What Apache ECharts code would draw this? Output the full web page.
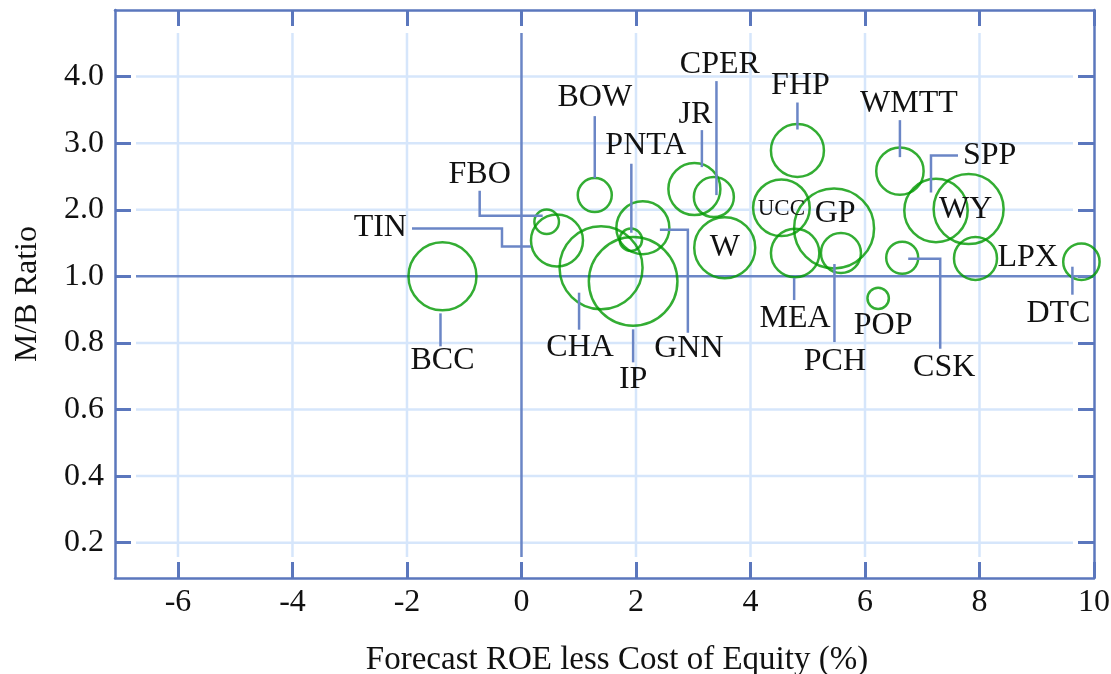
<!DOCTYPE html>
<html>
<head>
<meta charset="utf-8">
<script src="https://cdn.jsdelivr.net/npm/echarts@6/dist/echarts.min.js"></script>
<style>
  html, body { margin: 0; padding: 0; background: #fff; }
  #chart { width: 1111px; height: 674px; }
</style>
</head>
<body>
<div id="chart"></div>
<script>
// companies, x = forecast ROE less cost of equity (%), y = M/B ratio, bubble = relative size
const tickers = ['BCC', 'TIN', 'FBO', 'BOW', 'PNTA', 'GNN', 'CHA', 'IP', 'JR', 'CPER', 'W', 'UCC',
  'FHP', 'GP', 'MEA', 'PCH', 'POP', 'WMTT', 'CSK', 'SPP', 'WY', 'LPX', 'DTC'];
const roeSpread = [-1.38, 0.62, 0.44, 1.28, 1.91, 2.12, 1.39, 1.95, 3.02, 3.36, 3.55, 4.54,
  4.82, 5.46, 4.78, 5.58, 6.23, 6.61, 6.65, 7.24, 7.81, 7.93, 9.78];
const mbRatio = [1.0, 1.54, 1.82, 2.22, 1.55, 1.73, 1.13, 0.985, 2.31, 2.19, 1.43, 2.03,
  2.89, 1.72, 1.35, 1.35, 0.934, 2.58, 1.28, 1.99, 2.01, 1.27, 1.22];
const bubbleSize = [34, 26, 12.3, 17, 11.2, 26.5, 41.5, 44.3, 26, 20, 30.5, 28.3,
  26.5, 40, 24.2, 20, 10.7, 23.7, 16, 31.7, 35, 21.5, 18.2];

const xTicks = [-6, -4, -2, 0, 2, 4, 6, 8, 10];
const yTicks = [0.2, 0.4, 0.6, 0.8, 1.0, 2.0, 3.0, 4.0];

// y scale: 0.2 steps below 1.0, unit steps above, same spacing
const toAxis = v => v <= 1 ? v / 0.2 : 4 + v;
const fromAxis = p => p <= 5 ? p * 0.2 : p - 4;

const blue = '#5b77bd';
const leaderBlue = '#6b86c6';
const gridBlue = '#d6e6fb';
const green = '#009900';
const font = 'Liberation Serif';

// label placement, pixel offsets from the bubble centre
const labelLayout = {
  BCC: { at: [0, 84], line: [[-2, 37], [-2, 70]] },
  TIN: { at: [-150, -13], align: 'right', line: [[-145, -12], [-55, -12], [-55, 6], [-26, 6]] },
  FBO: { at: [-67, -47], line: [[-67, -31], [-67, -6], [-4, -6]] },
  BOW: { at: [0, -98], line: [[0, -79], [0, -17]] },
  PNTA: { at: [15, -94], line: [[0.5, -76], [0.5, -7]] },
  GNN: { at: [46, 121], line: [[17, 2], [45, 2], [45, 105]] },
  CHA: { at: [-21, 80], line: [[-22, 25], [-22, 62]] },
  IP: { at: [0, 98], line: [[0, 48], [0, 81]] },
  JR: { at: [1, -75], line: [[7.5, -59], [7.5, -22]] },
  CPER: { at: [6, -133], line: [[2.6, -116], [2.6, -2]] },
  W: { at: [0, 0] },
  UCC: { at: [0, 1], size: 23 },
  FHP: { at: [3, -65], line: [[0, -48], [0, -21]] },
  GP: { at: [1, -15] },
  MEA: { at: [0, 66], line: [[-1, 25], [-1, 47]] },
  PCH: { at: [-6, 109], line: [[-6.5, 11], [-6.5, 89]] },
  POP: { at: [5, 27] },
  WMTT: { at: [9, -68], line: [[0, -51], [0, -14]] },
  CSK: { at: [42, 110], line: [[6, 1], [38, 1], [38, 91]] },
  SPP: { at: [27, -55], align: 'left', line: [[-5, -18], [-5, -55], [22, -55]] },
  WY: { at: [-3, 0] },
  LPX: { at: [22, -1], align: 'left' },
  DTC: { at: [-23, 52], line: [[-9, 5], [-9, 33]] }
};

const points = tickers.map((t, i) => [roeSpread[i], toAxis(mbRatio[i]), bubbleSize[i], i]);

// grid lines stop short of the inside ticks; the x = 0 and M/B = 1.0 lines are darker
const tickGap = 21;
const gridRows = xTicks.filter(v => v < 10).map(v => [v, 5, 0])
  .concat(yTicks.map(v => [0, toAxis(v), 1]));

const chart = echarts.init(document.getElementById('chart'));

const baseX = {
  type: 'value', min: -7.1, max: 10,
  axisLine: { show: true, onZero: false, lineStyle: { color: blue, width: 2.5 } },
  axisTick: { show: true, inside: true, length: 16, customValues: xTicks, lineStyle: { color: blue, width: 3 } },
  axisLabel: { show: false, customValues: xTicks },
  splitLine: { show: false }
};
const baseY = {
  type: 'value', min: 0.47, max: 9,
  axisLine: { show: true, onZero: false, lineStyle: { color: blue, width: 2.5 } },
  axisTick: { show: true, inside: true, length: 16, customValues: yTicks.map(toAxis), lineStyle: { color: blue, width: 3 } },
  axisLabel: { show: false, customValues: yTicks.map(toAxis) },
  splitLine: { show: false }
};

chart.setOption({
  animation: false,
  backgroundColor: '#fff',
  grid: { left: 115, right: 17, top: 10, bottom: 96, outerBoundsMode: 'none', containLabel: false },
  xAxis: [
    Object.assign({}, baseX, {
      position: 'bottom',
      name: 'Forecast ROE less Cost of Equity (%)',
      nameLocation: 'middle',
      nameGap: 66,
      nameTextStyle: { fontFamily: font, fontSize: 33, color: '#111', padding: [0, 0, 0, 25] },
      axisLabel: { show: true, customValues: xTicks, margin: 9, fontFamily: font, fontSize: 32, color: '#111' }
    }),
    Object.assign({}, baseX, { position: 'top' })
  ],
  yAxis: [
    Object.assign({}, baseY, {
      position: 'left',
      name: 'M/B Ratio',
      nameLocation: 'middle',
      nameGap: 71,
      nameTextStyle: { fontFamily: font, fontSize: 32, color: '#111' },
      axisLabel: {
        show: true, customValues: yTicks.map(toAxis), margin: 11,
        fontFamily: font, fontSize: 32, color: '#111',
        formatter: p => fromAxis(p).toFixed(1)
      }
    }),
    Object.assign({}, baseY, { position: 'right' })
  ],
  series: [
    {
      type: 'custom',
      data: gridRows,
      encode: { x: 0, y: 1 },
      silent: true,
      clip: false,
      z: 1,
      renderItem: (params, api) => {
        const cs = params.coordSys;
        const c = api.coord([api.value(0), api.value(1)]);
        const horizontal = api.value(2) === 1;
        const isRef = horizontal ? api.value(1) === toAxis(1.0) : api.value(0) === 0;
        const shape = horizontal
          ? { x1: cs.x + tickGap, y1: c[1], x2: isRef ? cs.x + cs.width : cs.x + cs.width - tickGap, y2: c[1] }
          : { x1: c[0], y1: cs.y + tickGap + 2, x2: c[0], y2: cs.y + cs.height - tickGap };
        return {
          type: 'line',
          z2: isRef ? 2 : 1,
          shape,
          style: { stroke: isRef ? leaderBlue : gridBlue, lineWidth: 2.5 }
        };
      }
    },
    {
      type: 'scatter',
      data: points,
      symbol: 'circle',
      symbolSize: d => d[2] * 2,
      itemStyle: { color: 'rgba(0,0,0,0)', borderColor: green, borderWidth: 2.5 },
      silent: true,
      z: 3
    },
    {
      type: 'custom',
      data: points,
      encode: { x: 0, y: 1 },
      silent: true,
      clip: false,
      z: 4,
      renderItem: (params, api) => {
        const c = api.coord([api.value(0), api.value(1)]);
        const name = tickers[api.value(3)];
        const lay = labelLayout[name];
        const children = [];
        if (lay.line) {
          children.push({
            type: 'polyline',
            shape: { points: lay.line.map(p => [c[0] + p[0], c[1] + p[1]]) },
            style: { stroke: leaderBlue, lineWidth: 2.5, fill: null }
          });
        }
        children.push({
          type: 'text',
          x: c[0] + lay.at[0],
          y: c[1] + lay.at[1],
          style: {
            text: name,
            fontFamily: font,
            fontSize: lay.size || 32,
            fill: '#111',
            align: lay.align || 'center',
            verticalAlign: 'middle'
          }
        });
        return { type: 'group', children };
      }
    }
  ]
});
</script>
</body>
</html>
